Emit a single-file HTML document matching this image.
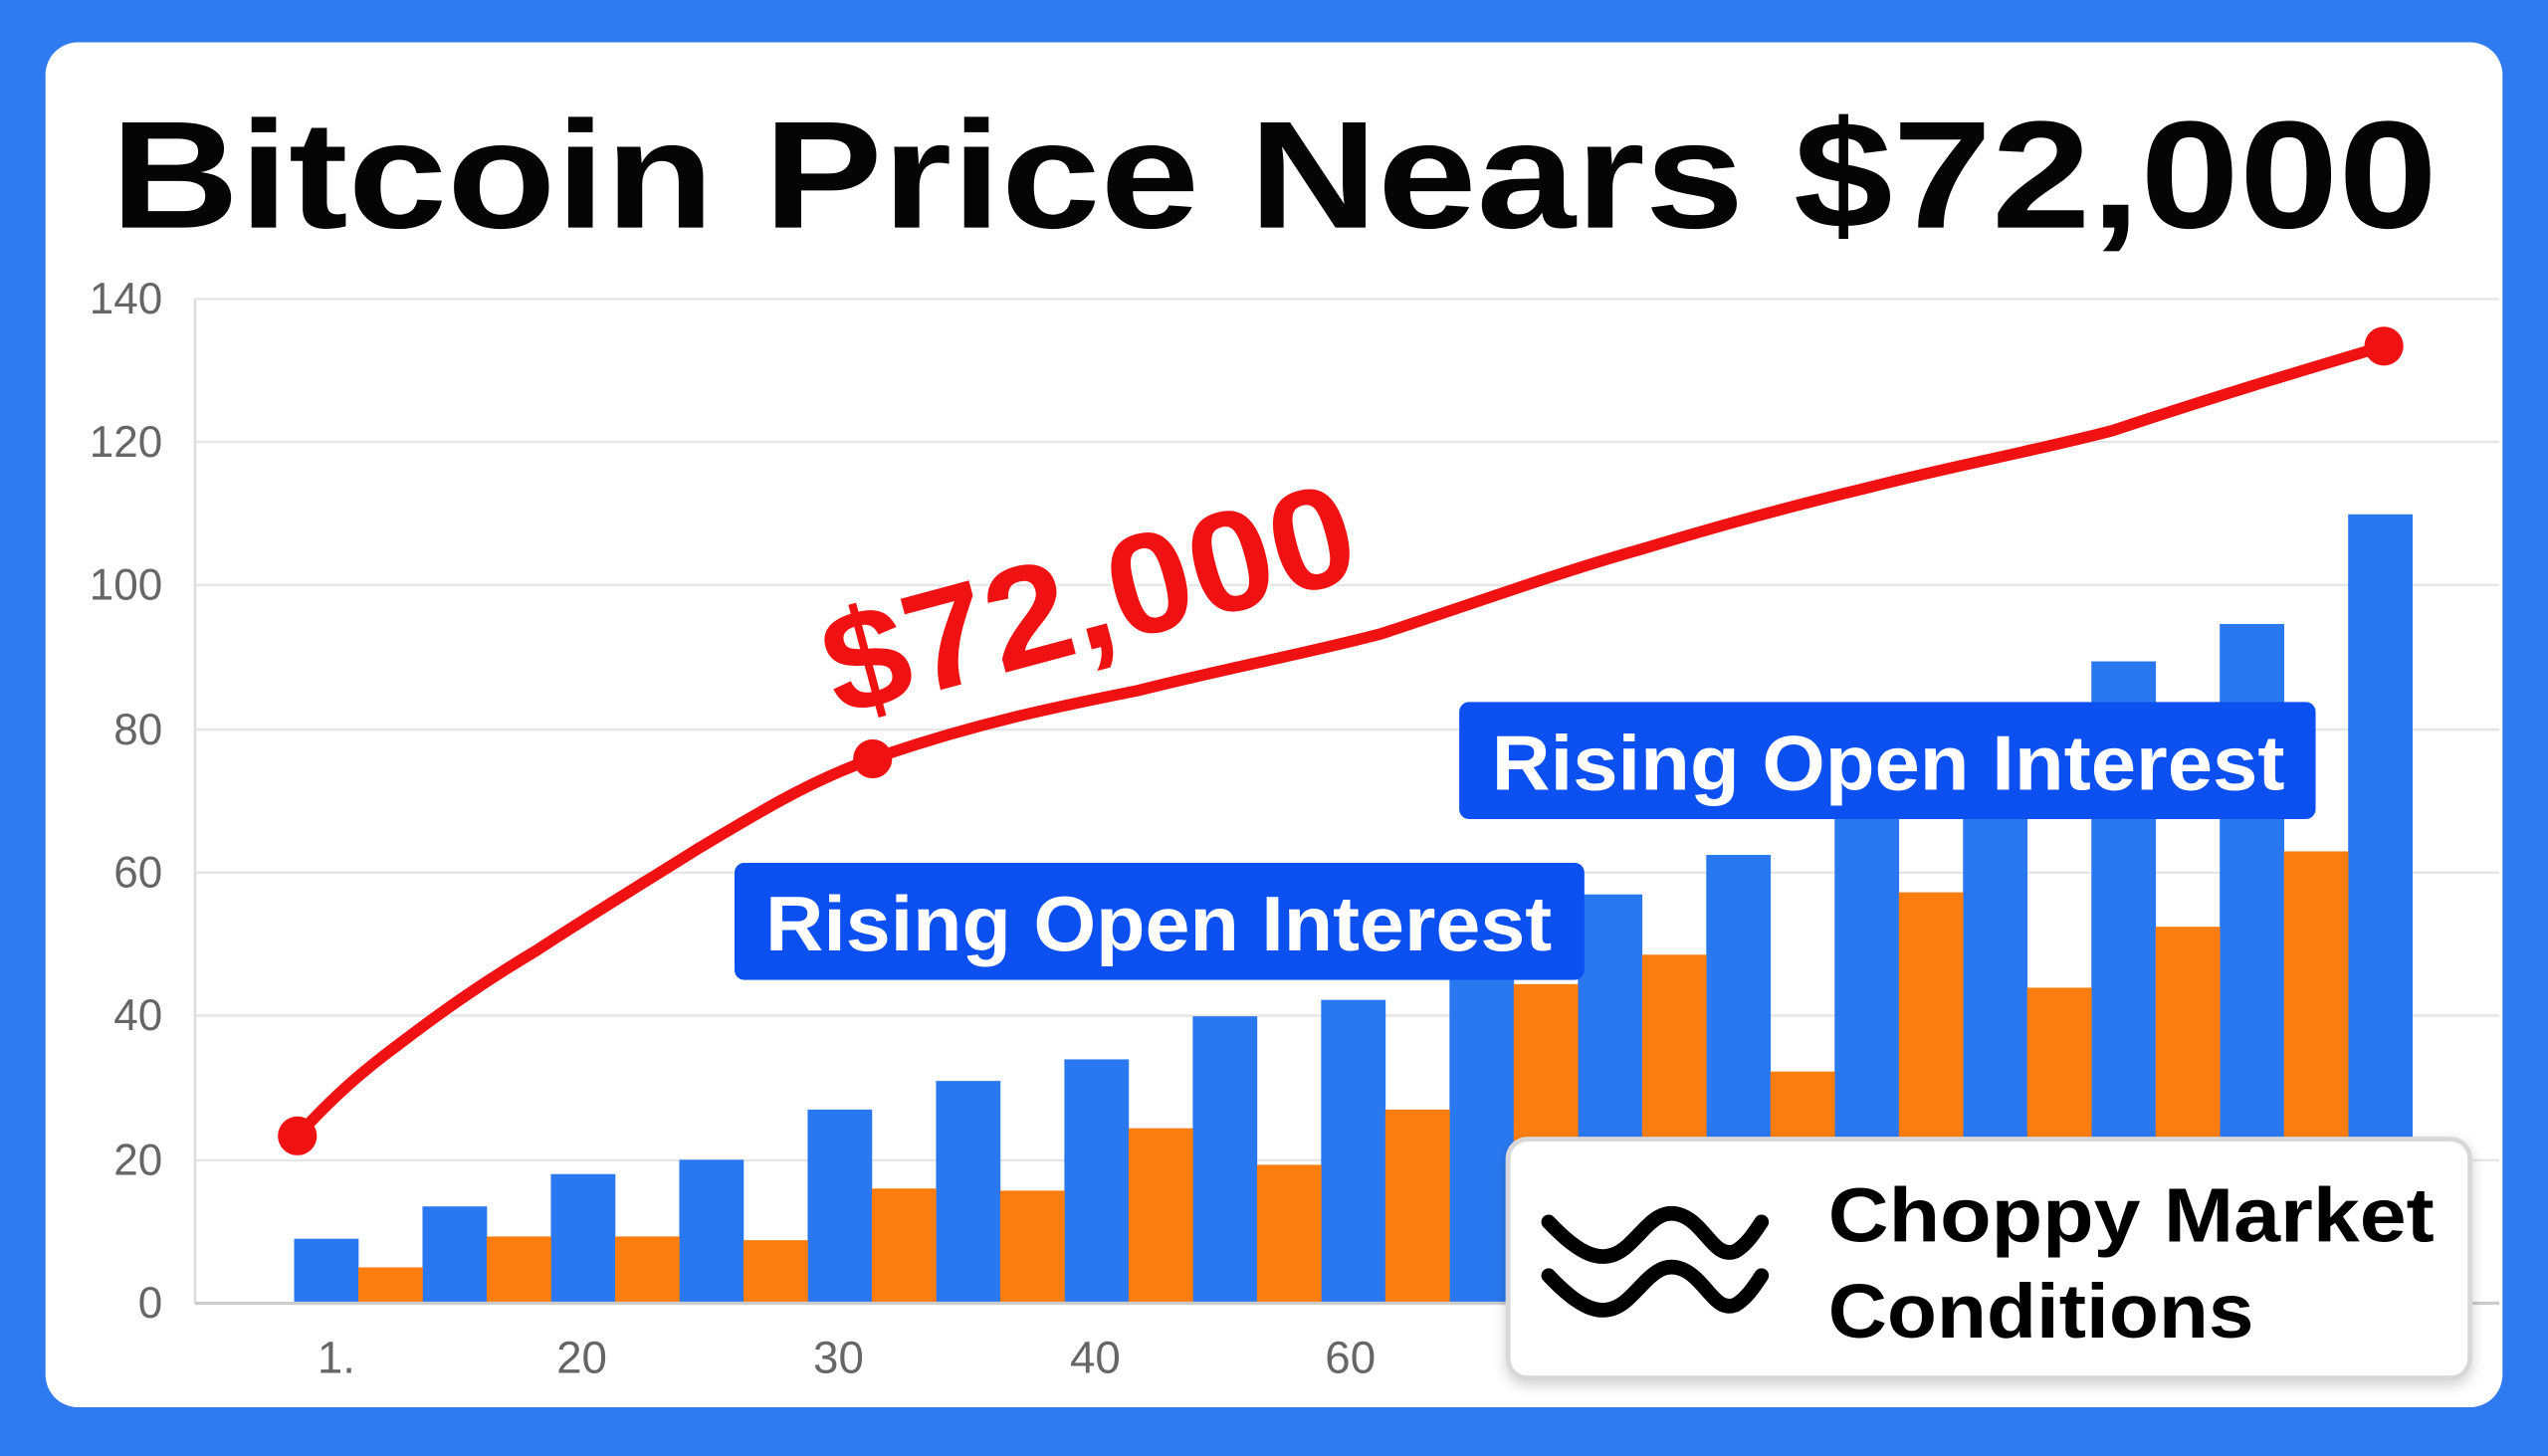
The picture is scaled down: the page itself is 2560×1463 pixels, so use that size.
<!DOCTYPE html>
<html><head><meta charset="utf-8"><style>
html,body{margin:0;padding:0;background:#2f7af0;}
svg{display:block;}
</style></head><body>
<svg width="2560" height="1463" viewBox="0 0 1568 896" preserveAspectRatio="none" xmlns="http://www.w3.org/2000/svg" font-family="Liberation Sans, sans-serif">
<defs>
<filter id="sh" x="-10%" y="-10%" width="120%" height="130%"><feDropShadow dx="0" dy="3" stdDeviation="4" flood-color="#000" flood-opacity="0.18"/></filter>
</defs>
<rect x="0" y="0" width="1568" height="896" fill="#2f7af0"/>
<rect x="28" y="26" width="1512" height="840" rx="20" fill="#ffffff"/>
<text x="784" y="140" text-anchor="middle" font-size="94" font-weight="bold" fill="#050505" textLength="1432" lengthAdjust="spacingAndGlyphs">Bitcoin Price Nears $72,000</text>
<g stroke="#e6e6e6" stroke-width="1.5">
<line x1="120" y1="184" x2="1538" y2="184"/><line x1="120" y1="272" x2="1538" y2="272"/>
<line x1="120" y1="360" x2="1538" y2="360"/><line x1="120" y1="449" x2="1538" y2="449"/>
<line x1="120" y1="537" x2="1538" y2="537"/><line x1="120" y1="625" x2="1538" y2="625"/>
<line x1="120" y1="714" x2="1538" y2="714"/>
</g>
<line x1="120" y1="184" x2="120" y2="802" stroke="#dddddd" stroke-width="1.5"/>
<g font-size="27" fill="#666" text-anchor="end">
<text x="100" y="193">140</text><text x="100" y="281">120</text><text x="100" y="369">100</text>
<text x="100" y="458">80</text><text x="100" y="546">60</text><text x="100" y="634">40</text>
<text x="100" y="723">20</text><text x="100" y="811">0</text>
</g>
<g fill="#2a78f0">
<rect x="181" y="762.3" width="39.7" height="39.7"/>
<rect x="260" y="742.4" width="39.7" height="59.6"/>
<rect x="339" y="722.5" width="39.7" height="79.5"/>
<rect x="418" y="713.7" width="39.7" height="88.3"/>
<rect x="497" y="682.8" width="39.7" height="119.2"/>
<rect x="576" y="665.2" width="39.7" height="136.8"/>
<rect x="655" y="651.9" width="39.7" height="150.1"/>
<rect x="734" y="625.4" width="39.7" height="176.6"/>
<rect x="813" y="615.3" width="39.7" height="186.7"/>
<rect x="892" y="585.7" width="39.7" height="216.3"/>
<rect x="971" y="550.4" width="39.7" height="251.6"/>
<rect x="1050" y="526.1" width="39.7" height="275.9"/>
<rect x="1129" y="493" width="39.7" height="309"/>
<rect x="1208" y="493" width="39.7" height="309"/>
<rect x="1287" y="407" width="39.7" height="395"/>
<rect x="1366" y="384" width="39.7" height="418"/>
<rect x="1445" y="316.5" width="39.7" height="485.5"/>
</g>
<g fill="#fb7d10">
<rect x="220.5" y="779.9" width="39.7" height="22.1"/>
<rect x="299.5" y="760.9" width="39.7" height="41.1"/>
<rect x="378.5" y="760.9" width="39.7" height="41.1"/>
<rect x="457.5" y="763.2" width="39.7" height="38.8"/>
<rect x="536.5" y="731.4" width="39.7" height="70.6"/>
<rect x="615.5" y="732.7" width="39.7" height="69.3"/>
<rect x="694.5" y="694.3" width="39.7" height="107.7"/>
<rect x="773.5" y="716.8" width="39.7" height="85.2"/>
<rect x="852.5" y="682.8" width="39.7" height="119.2"/>
<rect x="931.5" y="605.6" width="39.7" height="196.4"/>
<rect x="1010.5" y="587.5" width="39.7" height="214.5"/>
<rect x="1089.5" y="659.4" width="39.7" height="142.6"/>
<rect x="1168.5" y="549.1" width="39.7" height="252.9"/>
<rect x="1247.5" y="607.8" width="39.7" height="194.2"/>
<rect x="1326.5" y="570.3" width="39.7" height="231.7"/>
<rect x="1405.5" y="523.9" width="39.7" height="278.1"/>
</g>
<line x1="120" y1="802" x2="1538" y2="802" stroke="#cccccc" stroke-width="2"/>
<g font-size="28" fill="#666" text-anchor="middle">
<text x="207" y="845">1.</text><text x="358" y="845">20</text><text x="516" y="845">30</text>
<text x="674" y="845">40</text><text x="831" y="845">60</text>
</g>
<path d="M183,699 C205,675 222,660 245,643 C275,620 300,603 330,585 C365,562 395,544 430,522 C470,498 500,480 537,467 C600,445 650,435 700,425 C760,410 800,403 850,390 C905,372 960,352 1010,338 C1060,323 1100,312 1150,300 C1200,287 1250,278 1300,265 C1360,245 1410,230 1467,213" fill="none" stroke="#f01212" stroke-width="7" stroke-linecap="round"/>
<circle cx="183" cy="699" r="12" fill="#f01212"/>
<circle cx="537" cy="467" r="12" fill="#f01212"/>
<circle cx="1467" cy="213" r="12" fill="#f01212"/>
<text transform="translate(678,398) rotate(-15)" text-anchor="middle" font-size="88" font-weight="bold" fill="#f01212" stroke="#fff" stroke-width="2" paint-order="stroke" textLength="335" lengthAdjust="spacingAndGlyphs">$72,000</text>
<rect x="452" y="531" width="523" height="72" rx="6" fill="#0c50f2"/>
<text x="713" y="585" text-anchor="middle" font-size="48" font-weight="bold" fill="#fff" textLength="484" lengthAdjust="spacingAndGlyphs">Rising Open Interest</text>
<rect x="898" y="432" width="527" height="72" rx="6" fill="#0c50f2"/>
<text x="1162" y="486" text-anchor="middle" font-size="48" font-weight="bold" fill="#fff" textLength="488" lengthAdjust="spacingAndGlyphs">Rising Open Interest</text>
<rect x="928" y="701" width="592" height="147" rx="12" fill="#fff" stroke="#d8d8d8" stroke-width="3" filter="url(#sh)"/>
<g fill="none" stroke="#000" stroke-width="9" stroke-linecap="round">
<path d="M953,752 C970,770 985,780 1000,768 C1012,758 1020,742 1035,748 C1050,754 1055,775 1068,770 C1075,766 1080,758 1084,752"/>
<path d="M953,785 C970,803 985,813 1000,801 C1012,791 1020,775 1035,781 C1050,787 1055,808 1068,803 C1075,799 1080,791 1084,785"/>
</g>
<text x="1125" y="764" font-size="47" font-weight="bold" fill="#000" textLength="373" lengthAdjust="spacingAndGlyphs">Choppy Market</text>
<text x="1125" y="823" font-size="47" font-weight="bold" fill="#000" textLength="262" lengthAdjust="spacingAndGlyphs">Conditions</text>
</svg>
</body></html>
